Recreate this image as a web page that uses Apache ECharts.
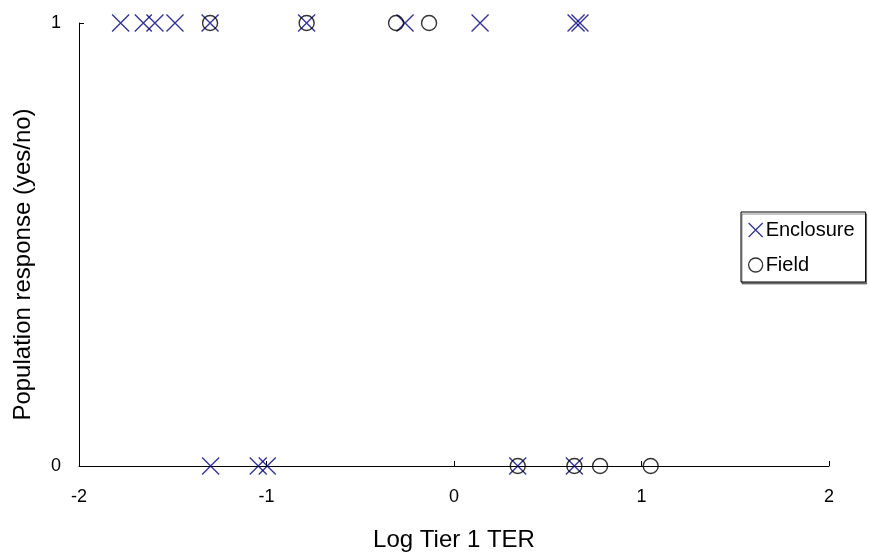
<!DOCTYPE html>
<html>
<head>
<meta charset="utf-8">
<script src="https://cdn.jsdelivr.net/npm/echarts@6/dist/echarts.min.js"></script>
<style>html,body{margin:0;padding:0;background:#fff}#c{width:869px;height:558px}</style>
</head>
<body>
<div id="c"></div>
<script>
const xTicks = [-2, -1, 0, 1, 2];
const yTicks = [0, 1];
const enclosureX = [-1.778, -1.657, -1.595, -1.488, -1.301, -0.786, -0.261, 0.139, 0.651, 0.672, -1.298, -1.044, -0.996, 0.340, 0.642];
const enclosureY = [1, 1, 1, 1, 1, 1, 1, 1, 1, 1, 0, 0, 0, 0, 0];
const fieldX = [-1.301, -0.786, -0.309, -0.133, 0.340, 0.642, 0.779, 1.049];
const fieldY = [1, 1, 1, 1, 0, 0, 0, 0];
const seriesNames = ['Enclosure', 'Field'];

const FONT = 'Liberation Sans, Arial, sans-serif';
const xPath = 'path://M0,0L20,20M20,0L0,20';
const chart = echarts.init(document.getElementById('c'), null, {renderer: 'canvas'});
chart.setOption({
  animation: false,
  backgroundColor: '#fff',
  grid: {left: 79, right: 40, top: 23, bottom: 92, containLabel: false},
  legend: {
    orient: 'vertical', left: 741, top: 212,
    padding: [8, 11, 7, 7], itemGap: 15, itemWidth: 14, itemHeight: 14,
    backgroundColor: '#fff', borderColor: '#000', borderWidth: 1,
    shadowColor: 'rgba(0,0,0,0.45)', shadowOffsetX: 1, shadowOffsetY: 2, shadowBlur: 0,
    textStyle: {fontFamily: FONT, fontSize: 20, color: '#000', padding: [0, 0, 0, -2]},
    data: [
      {name: seriesNames[0], icon: xPath, itemStyle: {color: 'transparent', borderColor: '#000080', borderWidth: 1.3}},
      {name: seriesNames[1], icon: 'circle', itemStyle: {color: 'transparent', borderColor: '#000', borderWidth: 1.3}}
    ]
  },
  xAxis: {
    type: 'value', min: xTicks[0], max: xTicks[xTicks.length - 1], interval: 1,
    name: 'Log Tier 1 TER', nameLocation: 'middle', nameGap: 62,
    nameTextStyle: {fontFamily: FONT, fontSize: 24, color: '#000'},
    axisLine: {show: true, onZero: false, lineStyle: {color: '#000', width: 1}},
    axisTick: {show: true, inside: true, length: 5, lineStyle: {color: '#000'}},
    axisLabel: {fontFamily: FONT, fontSize: 18, color: '#000', margin: 22},
    splitLine: {show: false}
  },
  yAxis: {
    type: 'value', min: yTicks[0], max: yTicks[yTicks.length - 1], interval: 1,
    name: 'Population response (yes/no)', nameLocation: 'middle', nameGap: 44,
    nameTextStyle: {fontFamily: FONT, fontSize: 24, color: '#000', padding: [0, 40, 0, 0]},
    axisLine: {show: true, onZero: false, lineStyle: {color: '#000', width: 1}},
    axisTick: {show: true, inside: true, length: 5, lineStyle: {color: '#000'}},
    axisLabel: {fontFamily: FONT, fontSize: 18, color: '#000', margin: 18},
    splitLine: {show: false}
  },
  series: [
    {
      name: seriesNames[0], type: 'scatter', symbol: xPath, symbolSize: 17,
      itemStyle: {color: 'transparent', borderColor: '#000080', borderWidth: 1.4},
      data: enclosureX.map((x, i) => [x, enclosureY[i]]), clip: false
    },
    {
      name: seriesNames[1], type: 'scatter', symbol: 'circle', symbolSize: 15,
      itemStyle: {color: 'transparent', borderColor: '#000', borderWidth: 1.4},
      data: fieldX.map((x, i) => [x, fieldY[i]]), clip: false
    }
  ]
});
</script>
</body>
</html>
